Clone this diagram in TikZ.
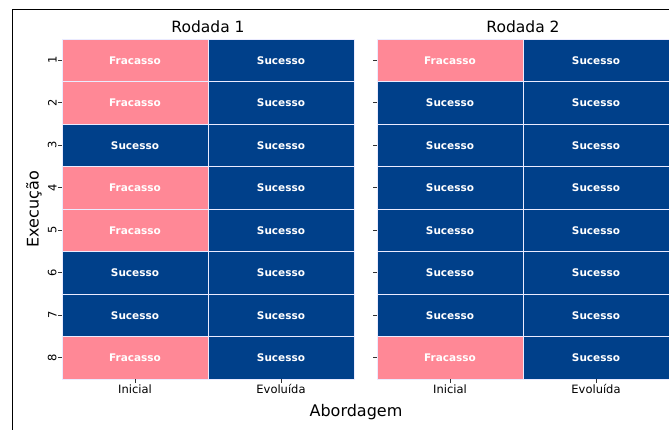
\documentclass[tikz,border=0pt]{standalone}
\usepackage{fontspec}
\setmainfont{DejaVu Sans}
\usetikzlibrary{calc}
\definecolor{fracasso}{RGB}{255,136,150}
\definecolor{sucesso}{RGB}{0,64,138}
\tikzset{
  cell/.style={draw=white!92!blue,line width=0.6pt,fill=#1,text=white,inner sep=0pt,
    minimum width=146pt,minimum height=42.5pt,font=\bfseries\fontsize{10.5}{12}\selectfont},
  tick/.style={line width=0.6pt,black!80},
  ticklabel/.style={font=\fontsize{11.5}{13}\selectfont,inner sep=1pt},
  paneltitle/.style={font=\fontsize{15.5}{18}\selectfont},
  axislabel/.style={font=\fontsize{16}{19}\selectfont}
}
\begin{document}
\begin{tikzpicture}[x=1pt,y=-1pt]
  \useasboundingbox (0,0) rectangle (669,430);
  \draw[line width=0.8pt] (12,430) -- (12,9) -- (669,9);
  % Rodada 1
  \foreach \c/\t [count=\i] in {fracasso/Fracasso,fracasso/Fracasso,sucesso/Sucesso,fracasso/Fracasso,
      fracasso/Fracasso,sucesso/Sucesso,sucesso/Sucesso,fracasso/Fracasso}{
    \node[cell=\c] (ai\i) at (135,17.75+42.5*\i) {\t};
    \node[cell=sucesso] (ae\i) at (281,17.75+42.5*\i) {Sucesso};
    \draw[tick] (ai\i.west) -- ++(-4,0) coordinate (ta\i);
    \node[ticklabel,rotate=90,anchor=south] at (ta\i) {\i};
  }
  % Rodada 2
  \foreach \c/\t [count=\i] in {fracasso/Fracasso,sucesso/Sucesso,sucesso/Sucesso,sucesso/Sucesso,
      sucesso/Sucesso,sucesso/Sucesso,sucesso/Sucesso,fracasso/Fracasso}{
    \node[cell=\c] (bi\i) at (450,17.75+42.5*\i) {\t};
    \node[cell=sucesso] (be\i) at (596,17.75+42.5*\i) {Sucesso};
    \draw[tick] (bi\i.west) -- ++(-4,0);
  }
  \foreach \p in {a,b}{
    \draw[tick] (\p i8.south) -- ++(0,4) coordinate (\p ti);
    \draw[tick] (\p e8.south) -- ++(0,4) coordinate (\p te);
    \node[ticklabel,anchor=north] (\p lab) at (\p ti) {Inicial};
    \node[ticklabel,anchor=north] at (\p te) {Evoluída};
  }
  \node[paneltitle,anchor=south] (t1) at ($(ai1.north east)!0.5!(ae1.north west)+(0,-2)$) {Rodada 1};
  \node[paneltitle,anchor=south] (t2) at ($(bi1.north east)!0.5!(be1.north west)+(0,-2)$) {Rodada 2};
  \node[axislabel,rotate=90] (ylab) at (34,209) {Execução};
  \node[axislabel] (xlab) at (356,412) {Abordagem};
\end{tikzpicture}
\end{document}
